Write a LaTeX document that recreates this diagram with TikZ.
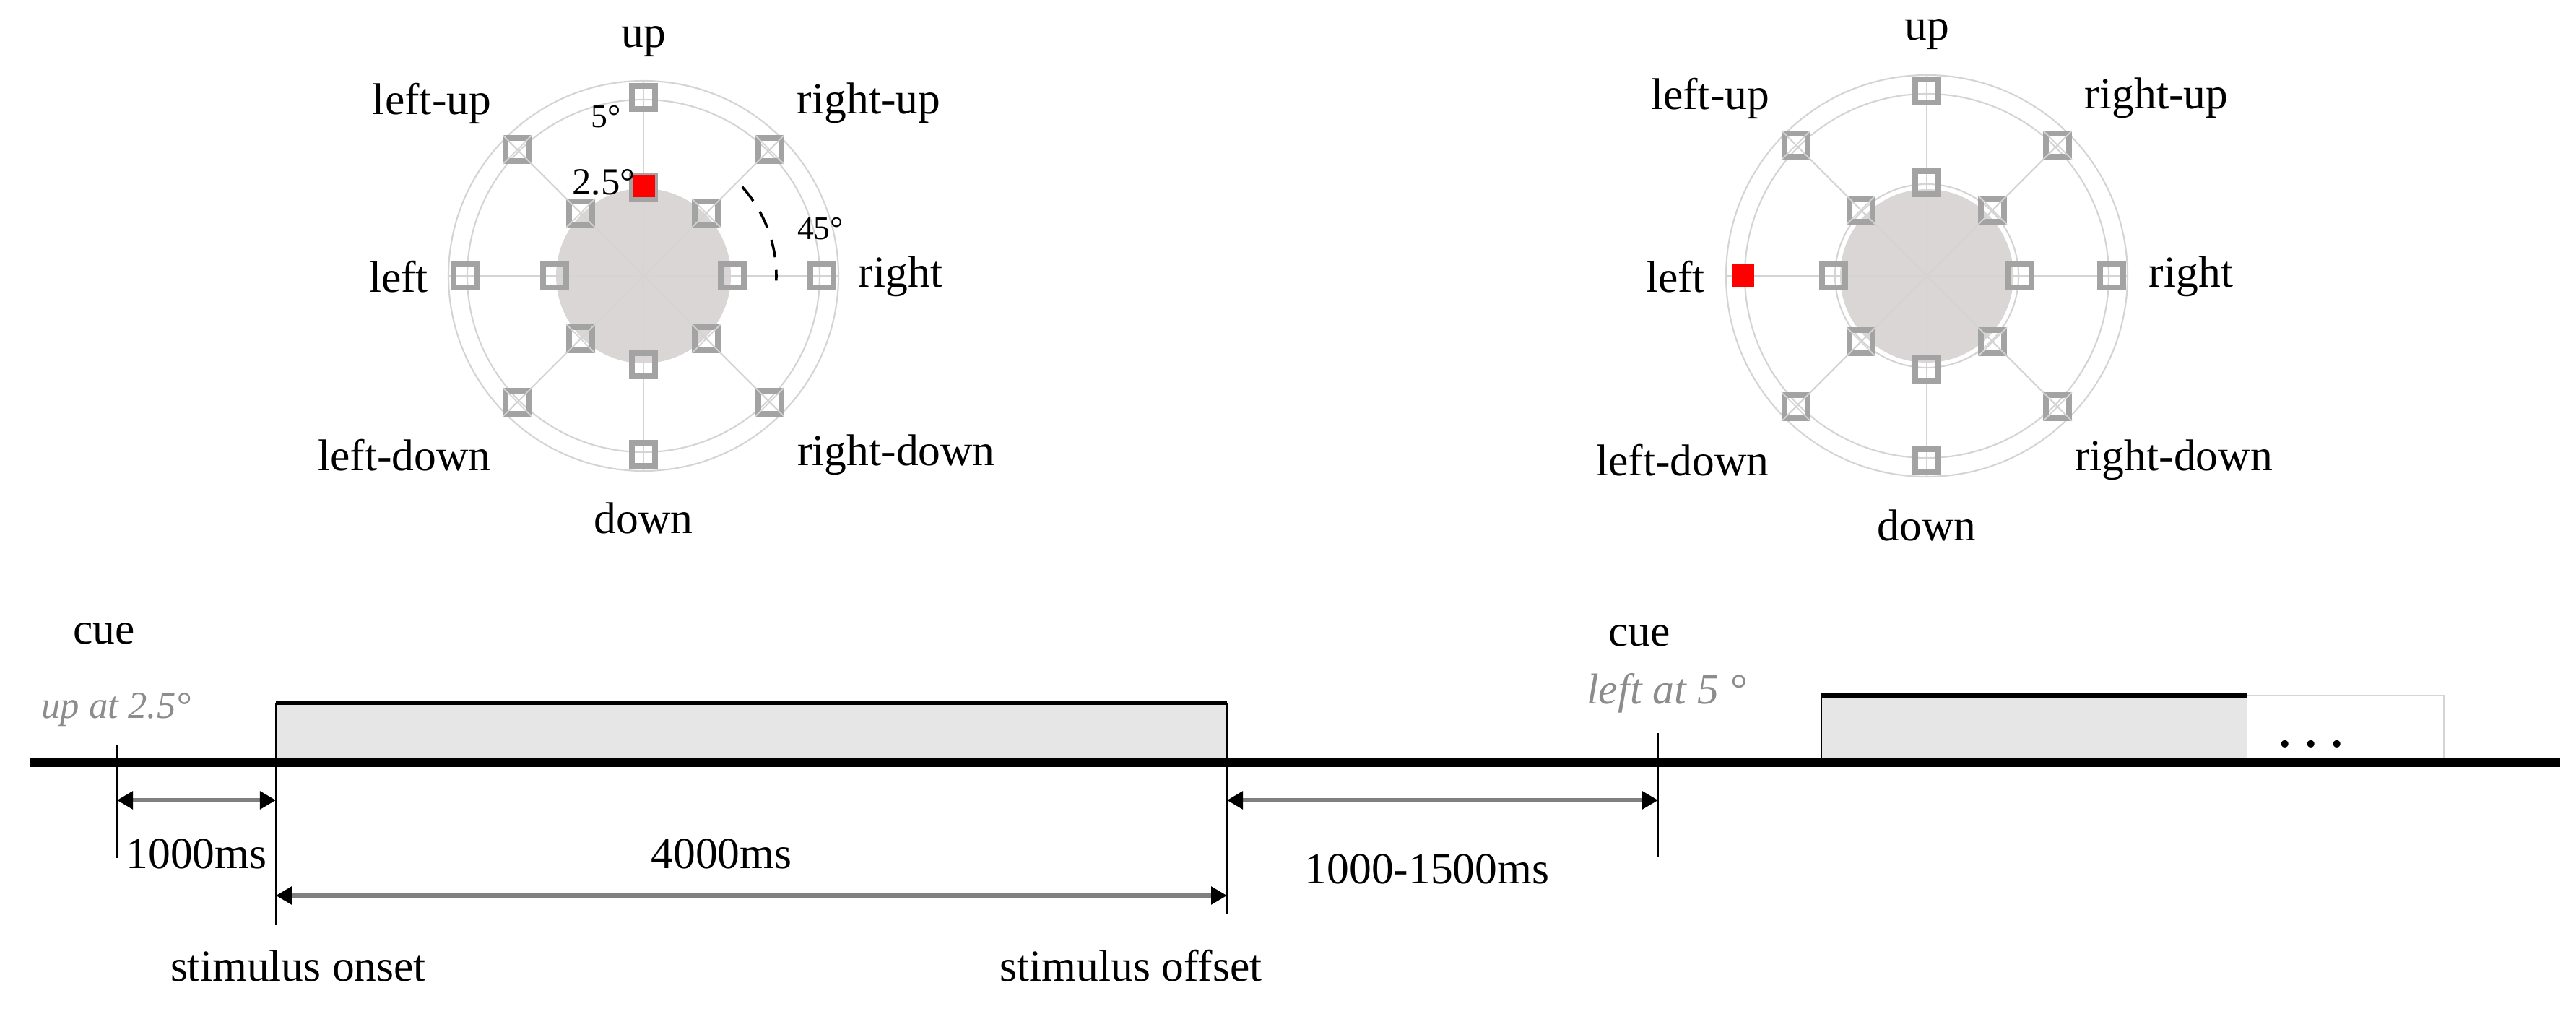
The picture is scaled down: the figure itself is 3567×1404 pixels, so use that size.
\documentclass[tikz,border=0pt]{standalone}
\usepackage{fontspec}
\setmainfont{Liberation Serif}
\usetikzlibrary{arrows.meta}
\definecolor{sqgray}{HTML}{A3A3A3}
\definecolor{ringgray}{HTML}{D4D4D4}
\definecolor{diskgray}{HTML}{D9D6D5}
\definecolor{boxgray}{HTML}{E6E6E6}
\definecolor{cuegray}{HTML}{8C8C8C}
\tikzset{
  lbl/.style={font=\fontsize{17.5}{20}\selectfont, inner sep=0pt},
  smalllbl/.style={font=\fontsize{13}{15}\selectfont, inner sep=0pt},
  sq/.style={draw=sqgray, line width=2.2pt, minimum size=0.32cm, inner sep=0pt},
  redsq/.style={fill=red, minimum size=0.31cm, inner sep=0pt},
  spoke/.style={draw=ringgray, line width=0.6pt},
  tline/.style={line width=3.4pt, black},
  thin/.style={line width=0.8pt, black},
  dim/.style={draw=gray, line width=1.6pt, {Triangle[length=0.22cm,width=0.24cm,color=black,fill=black]}-{Triangle[length=0.22cm,width=0.24cm,color=black,fill=black]}},
}
\begin{document}
\begin{tikzpicture}[x=0.01cm,y=-0.01cm]
\useasboundingbox (0,0) rectangle (3567,1404);
% ---------- left polar ----------
\begin{scope}[shift={(891,382)}]
  \fill[diskgray] (0,0) circle[radius=121];
  \foreach \a in {0,45,...,315} \draw[spoke] (0,0) -- (\a:270);
  \draw[spoke] (0,0) circle[radius=244];
  \draw[spoke] (0,0) circle[radius=270];
  \foreach \a in {0,90,180,270} {\node[sq] (Lo\a) at (\a:247) {}; \node[sq] (Li\a) at (\a:123) {};}
  \foreach \a in {45,135,225,315} {
    \node[sq] (Lo\a) at (\a:247) {}; \node[sq] (Li\a) at (\a:123) {};
    \draw[ringgray,line width=0.5pt] (Lo\a.north west)--(Lo\a.south east) (Lo\a.north east)--(Lo\a.south west);
    \draw[ringgray,line width=0.5pt] (Li\a.north west)--(Li\a.south east) (Li\a.north east)--(Li\a.south west);}
  \node[redsq] (Lred) at (0,-124) {};
  \draw[line width=1pt, dash pattern=on 7pt off 5pt] (-42:184) arc[start angle=-42, end angle=2, radius=184];
\end{scope}
\node[lbl] (Lup) at (891,58) {up};
\node[lbl] (Llu) at (598,143) {left-up};
\node[lbl] (Lru) at (1203,143) {right-up};
\node[lbl] (Ll) at (552,383) {left};
\node[lbl] (Lr) at (1247,383) {right};
\node[lbl] (Lld) at (560,630) {left-down};
\node[lbl] (Lrd) at (1241,630) {right-down};
\node[lbl] (Ld) at (891,717) {down};
\node[smalllbl] (L5) at (839,162) {5°};
\node[font=\fontsize{15}{17}\selectfont,inner sep=0pt] (L25) at (836,252) {2.5°};
\node[smalllbl] (L45) at (1136,317) {45°};
% ---------- right polar ----------
\begin{scope}[shift={(2668,382)}]
  \fill[diskgray] (0,0) circle[radius=120];
  \draw[spoke] (0,0) circle[radius=127];
  \foreach \a in {0,45,...,315} \draw[spoke] (0,0) -- (\a:278);
  \draw[spoke] (0,0) circle[radius=252];
  \draw[spoke] (0,0) circle[radius=278];
  \foreach \a in {0,90,270} \node[sq] (Ro\a) at (\a:256) {};
  \foreach \a in {0,90,180,270} \node[sq] (Ri\a) at (\a:129) {};
  \foreach \a in {45,135,225,315} {
    \node[sq] (Ro\a) at (\a:256) {}; \node[sq] (Ri\a) at (\a:129) {};
    \draw[ringgray,line width=0.5pt] (Ro\a.north west)--(Ro\a.south east) (Ro\a.north east)--(Ro\a.south west);
    \draw[ringgray,line width=0.5pt] (Ri\a.north west)--(Ri\a.south east) (Ri\a.north east)--(Ri\a.south west);}
  \node[redsq] (Rred) at (-255,0) {};
\end{scope}
\node[lbl] (Rup) at (2668,48) {up};
\node[lbl] (Rlu) at (2368,136) {left-up};
\node[lbl] (Rru) at (2986,136) {right-up};
\node[lbl] (Rl) at (2320,383) {left};
\node[lbl] (Rr) at (3034,383) {right};
\node[lbl] (Rld) at (2330,637) {left-down};
\node[lbl] (Rrd) at (3010,637) {right-down};
\node[lbl] (Rd) at (2668,727) {down};
% ---------- timeline ----------
\fill[boxgray] (382,973) rectangle (1699,1056);
\draw[thin] (382,1056) -- (382,973);
\draw[line width=1.6pt] (382,973) -- (1699,973);
\draw[thin] (1699,973) -- (1699,1056);
\fill[boxgray] (2522,963) rectangle (3111,1052);
\draw[thin] (2522,1052) -- (2522,963);
\draw[line width=1.6pt] (2522,963) -- (3111,963);
\draw[ringgray, line width=0.4pt] (3111,963) -- (3384,963) -- (3384,1052);
\node[font=\fontsize{17.5}{20}\selectfont\bfseries,inner sep=0pt] (dots) at (3200,1030) {. . .};
\draw[tline] (42,1056) -- (3545,1056);
\coordinate (c1t) at (162,1031); \coordinate (c1b) at (162,1188);
\draw[thin] (c1t) -- (c1b);
\coordinate (ont) at (382,1056); \coordinate (onb) at (382,1281);
\draw[thin] (ont) -- (onb);
\coordinate (oft) at (1699,1056); \coordinate (ofb) at (1699,1265);
\draw[thin] (oft) -- (ofb);
\coordinate (c2t) at (2296,1015); \coordinate (c2b) at (2296,1187);
\draw[thin] (c2t) -- (c2b);
\coordinate (a1l) at (162,1108); \coordinate (a1r) at (382,1108);
\draw[dim] (a1l) -- (a1r);
\coordinate (a2l) at (382,1240); \coordinate (a2r) at (1699,1240);
\draw[dim] (a2l) -- (a2r);
\coordinate (a3l) at (1699,1108); \coordinate (a3r) at (2296,1108);
\draw[dim] (a3l) -- (a3r);
\node[lbl] (t1000) at (272,1182) {1000ms};
\node[lbl] (t4000) at (999,1182) {4000ms};
\node[lbl] (t1500) at (1976,1203) {1000-1500ms};
\node[lbl] (son) at (413,1337) {stimulus onset};
\node[lbl] (soff) at (1566,1337) {stimulus offset};
\node[lbl] (cue1) at (144,877) {cue};
\node[lbl,text=cuegray,font=\fontsize{15}{17}\selectfont\itshape] (cue1t) at (161,983) {up at 2.5°};
\node[lbl] (cue2) at (2270,880) {cue};
\node[lbl,text=cuegray,font=\fontsize{17}{19}\selectfont\itshape] (cue2t) at (2308,960) {left at 5 °};
\end{tikzpicture}
\end{document}
